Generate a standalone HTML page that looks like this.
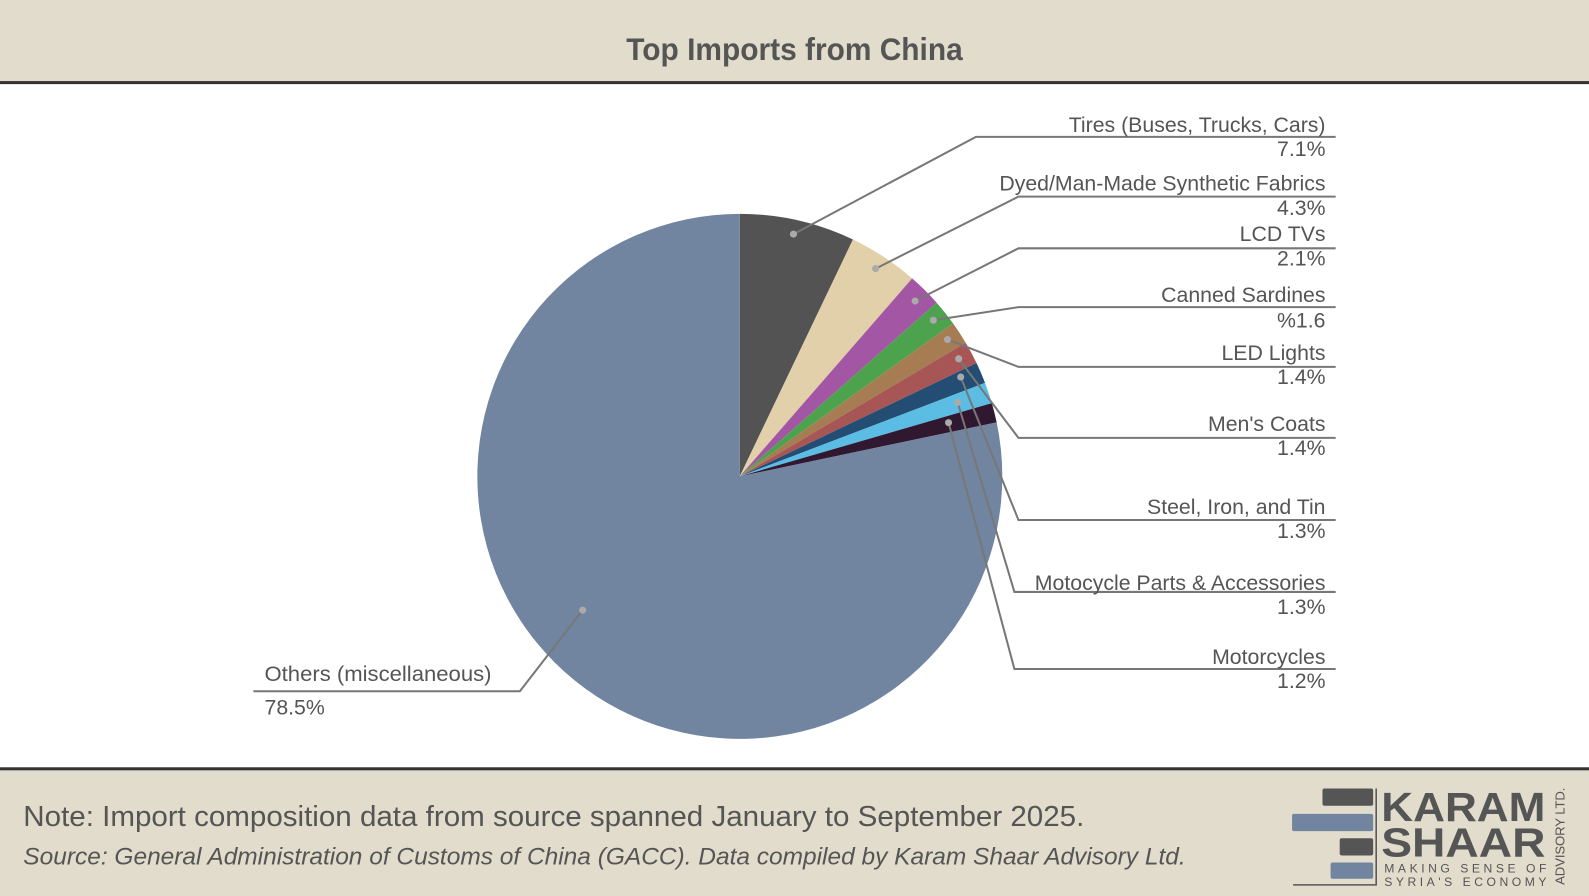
<!DOCTYPE html>
<html><head><meta charset="utf-8"><style>
html,body{margin:0;padding:0;background:#fff}
svg{display:block}
text{font-family:"Liberation Sans Narrow","Liberation Sans",sans-serif;fill:#555}
</style></head><body>
<svg width="1589" height="896" viewBox="0 0 1568 884" preserveAspectRatio="none">
<rect x="0" y="0" width="1568" height="884" fill="#fff"/>
<rect x="0" y="0" width="1568" height="81" fill="#e1dccb"/>
<rect x="0" y="80" width="1568" height="3" fill="#333"/>
<text x="618" y="59" font-size="31" font-weight="bold" fill="#555" textLength="332" lengthAdjust="spacingAndGlyphs">Top Imports from China</text>
<rect x="0" y="758" width="1568" height="126" fill="#e1dccb"/>
<rect x="0" y="757" width="1568" height="3" fill="#333"/>
<g stroke="none">
<path d="M730,470 L730,211 A259,259 0 0,1 841.7,236.3Z" fill="#535353"/>
<path d="M730,470 L841.7,236.3 A259,259 0 0,1 900.1,274.7Z" fill="#e2d0aa"/>
<path d="M730,470 L900.1,274.7 A259,259 0 0,1 924.3,298.7Z" fill="#a356a3"/>
<path d="M730,470 L924.3,298.7 A259,259 0 0,1 940.5,319.1Z" fill="#4da34d"/>
<path d="M730,470 L940.5,319.1 A259,259 0 0,1 952.9,338.2Z" fill="#a67c52"/>
<path d="M730,470 L952.9,338.2 A259,259 0 0,1 963.6,358.2Z" fill="#a85555"/>
<path d="M730,470 L963.6,358.2 A259,259 0 0,1 972.0,377.7Z" fill="#244d73"/>
<path d="M730,470 L972.0,377.7 A259,259 0 0,1 978.7,397.7Z" fill="#5bbde3"/>
<path d="M730,470 L978.7,397.7 A259,259 0 0,1 983.5,416.7Z" fill="#301830"/>
<path d="M730,470 L983.5,416.7 A259,259 0 1,1 730,211Z" fill="#7184a0"/>
</g>
<g stroke="#777" stroke-width="2" fill="none">
<polyline points="783,231 963,135 1318,135"/>
<polyline points="864,265 1005,194 1318,194"/>
<polyline points="903,297 1005,245 1318,245"/>
<polyline points="921,316 1005,303 1318,303"/>
<polyline points="935,335 1005,362 1318,362"/>
<polyline points="946,354 1005,432 1318,432"/>
<polyline points="948,372 1005,513 1318,513"/>
<polyline points="945,397 1001,584 1318,584"/>
<polyline points="936,417 1001,660 1318,660"/>
<polyline points="575,602 513,682 250,682"/>
</g>
<g fill="#aaa">
<circle cx="783" cy="231" r="3.5"/><circle cx="864" cy="265" r="3.5"/><circle cx="903" cy="297" r="3.5"/>
<circle cx="921" cy="316" r="3.5"/><circle cx="935" cy="335" r="3.5"/><circle cx="946" cy="354" r="3.5"/>
<circle cx="948" cy="372" r="3.5"/><circle cx="945" cy="397" r="3.5"/><circle cx="936" cy="417" r="3.5"/>
<circle cx="575" cy="602" r="3.5"/>
</g>
<g font-size="21" text-anchor="end">
<text x="1308" y="130">Tires (Buses, Trucks, Cars)</text><text x="1308" y="154">7.1%</text>
<text x="1308" y="188">Dyed/Man-Made Synthetic Fabrics</text><text x="1308" y="212">4.3%</text>
<text x="1308" y="238">LCD TVs</text><text x="1308" y="262">2.1%</text>
<text x="1308" y="298">Canned Sardines</text><text x="1308" y="323">%1.6</text>
<text x="1308" y="355">LED Lights</text><text x="1308" y="379">1.4%</text>
<text x="1308" y="425">Men's Coats</text><text x="1308" y="449">1.4%</text>
<text x="1308" y="507">Steel, Iron, and Tin</text><text x="1308" y="531">1.3%</text>
<text x="1308" y="582">Motocycle Parts &amp; Accessories</text><text x="1308" y="606">1.3%</text>
<text x="1308" y="655">Motorcycles</text><text x="1308" y="679">1.2%</text>
</g>
<text x="261" y="672" font-size="21" textLength="224" lengthAdjust="spacingAndGlyphs">Others (miscellaneous)</text>
<text x="261" y="705" font-size="21">78.5%</text>
<text x="23" y="815" font-size="28" fill="#555" textLength="1047" lengthAdjust="spacingAndGlyphs">Note: Import composition data from source spanned January to September 2025.</text>
<text x="23" y="853" font-size="24" font-style="italic" fill="#555" textLength="1147" lengthAdjust="spacingAndGlyphs">Source: General Administration of Customs of China (GACC). Data compiled by Karam Shaar Advisory Ltd.</text>
<g>
<rect x="1305" y="778" width="50" height="17" rx="2" fill="#555"/>
<rect x="1275" y="803" width="80" height="17" rx="2" fill="#7184a0"/>
<rect x="1322" y="827" width="33" height="17" rx="2" fill="#555"/>
<rect x="1313" y="851" width="42" height="16" rx="2" fill="#7184a0"/>
<polyline points="1276,873 1358,873 1358,778" stroke="#555" stroke-width="1.5" fill="none"/>
<text x="1363" y="810" font-size="40" font-weight="bold" font-family="Liberation Sans" fill="#555" textLength="162" lengthAdjust="spacingAndGlyphs">KARAM</text>
<text x="1363" y="845" font-size="40" font-weight="bold" font-family="Liberation Sans" fill="#555" textLength="162" lengthAdjust="spacingAndGlyphs">SHAAR</text>
<text x="1366" y="861" font-size="12" font-family="Liberation Sans" fill="#555" textLength="160">MAKING SENSE OF</text>
<text x="1366" y="874" font-size="12" font-family="Liberation Sans" fill="#555" textLength="160">SYRIA'S ECONOMY</text>
<text transform="translate(1544,873) rotate(-90)" font-size="13" font-family="Liberation Sans" fill="#555" textLength="96">ADVISORY LTD.</text>
</g>
</svg>
</body></html>
